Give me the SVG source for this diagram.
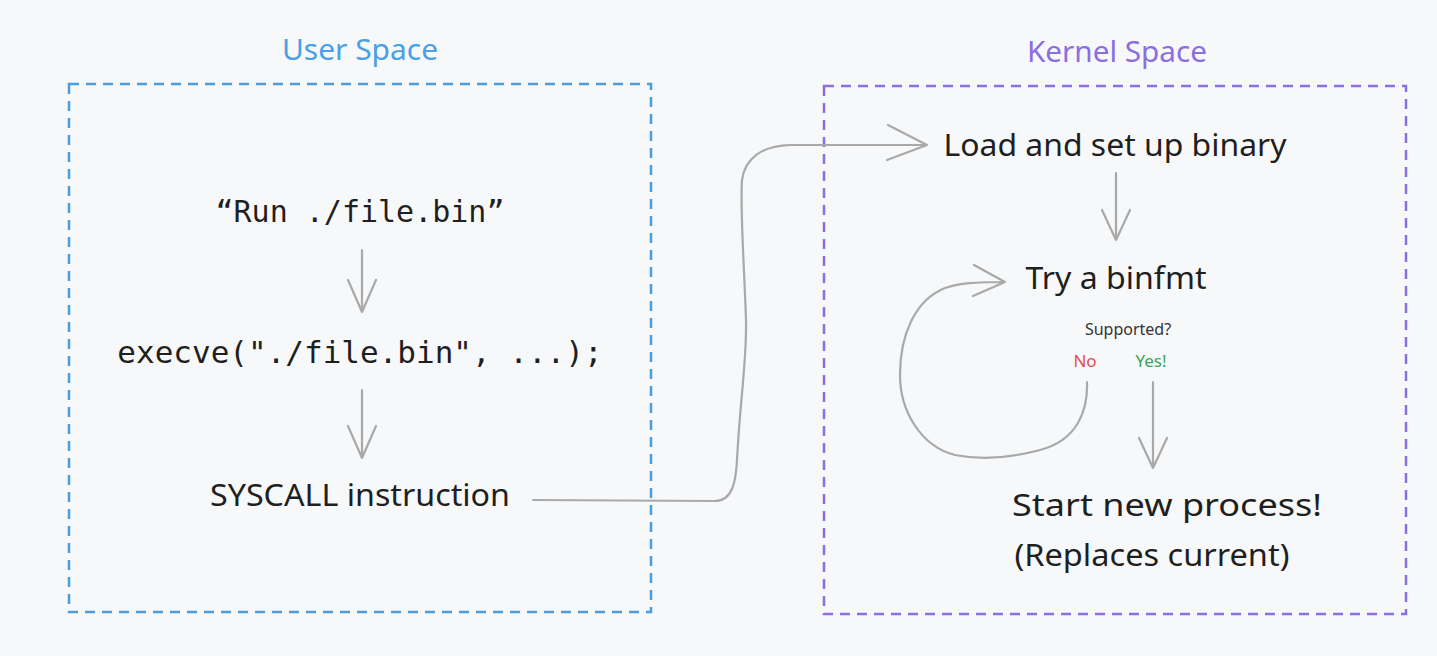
<svg xmlns="http://www.w3.org/2000/svg" width="1437" height="656" viewBox="0 0 1437 656">
<style>
.sans{font-family:"Noto Sans","Open Sans","Liberation Sans",sans-serif;fill:#1f1f1f}
.mono{font-family:"DejaVu Sans Mono","Liberation Mono",monospace;fill:#1f1f1f}
.conn{fill:none;stroke:#a9a9a9;stroke-width:2.2;stroke-linecap:round;stroke-linejoin:round}
</style>
<rect width="1437" height="656" fill="#f7f8fa"/>
<g id="user-space">
<rect x="69" y="84" width="582" height="528" fill="none" stroke="#4a9ee0" stroke-width="2.5" stroke-dasharray="10 7"/>
<text x="360" y="60" text-anchor="middle" class="sans" style="fill:#4aa0e6" font-size="29" textLength="156" lengthAdjust="spacingAndGlyphs">User Space</text>
</g>
<g id="kernel-space">
<rect x="824" y="86" width="582" height="528" fill="none" stroke="#8b6fe0" stroke-width="2.5" stroke-dasharray="10 7"/>
<text x="1117" y="62" text-anchor="middle" class="sans" style="fill:#8a6ee2" font-size="29" textLength="180" lengthAdjust="spacingAndGlyphs">Kernel Space</text>
</g>
<g id="run">
<text x="360" y="222" text-anchor="middle" class="mono" font-size="30">“Run ./file.bin”</text>
</g>
<g id="execve">
<text x="360" y="363" text-anchor="middle" class="mono" font-size="31">execve("./file.bin", ...);</text>
</g>
<g id="syscall">
<text x="360" y="506" text-anchor="middle" class="sans" font-size="30" textLength="300" lengthAdjust="spacingAndGlyphs">SYSCALL instruction</text>
</g>
<g id="load">
<text x="1115" y="156" text-anchor="middle" class="sans" font-size="31" textLength="343" lengthAdjust="spacingAndGlyphs">Load and set up binary</text>
</g>
<g id="try">
<text x="1116" y="289" text-anchor="middle" class="sans" font-size="31" textLength="181" lengthAdjust="spacingAndGlyphs">Try a binfmt</text>
</g>
<g id="supported">
<text x="1128" y="335" text-anchor="middle" class="sans" style="fill:#333" font-size="16">Supported?</text>
<text x="1085" y="367" text-anchor="middle" class="sans" style="fill:#e05050" font-size="17">No</text>
<text x="1151" y="367" text-anchor="middle" class="sans" style="fill:#3aa655" font-size="17">Yes!</text>
</g>
<g id="start">
<text x="1167" y="516" text-anchor="middle" class="sans" font-size="31" textLength="310" lengthAdjust="spacingAndGlyphs">Start new process!</text>
<text x="1152" y="566" text-anchor="middle" class="sans" font-size="31" textLength="275" lengthAdjust="spacingAndGlyphs">(Replaces current)</text>
</g>
<g id="connectors">
<path class="conn" d="M362 250 L362 312 M348 280 L362 312 L376 280"/>
<path class="conn" d="M362 390 L362 458 M348 426 L362 458 L376 426"/>
<path class="conn" d="M533 500 L715 501 C733 501 736 480 737 460 C740 400 747 360 746 320 C744 260 740 210 742 180 C745 158 762 146 790 145 L927 145 M888 125 L927 145 L887 160"/>
<path class="conn" d="M1116 173 L1116 240 M1102 210 L1116 240 L1130 210"/>
<path class="conn" d="M1087 382 C1088 410 1078 440 1040 450 C1010 458 980 460 955 455 C920 446 900 410 900 375 C900 335 915 300 945 288 C960 283 975 282 1005 282 M974 265 L1005 282 L973 296"/>
<path class="conn" d="M1153 382 L1153 468 M1139 438 L1153 468 L1167 438"/>
</g>
</svg>
